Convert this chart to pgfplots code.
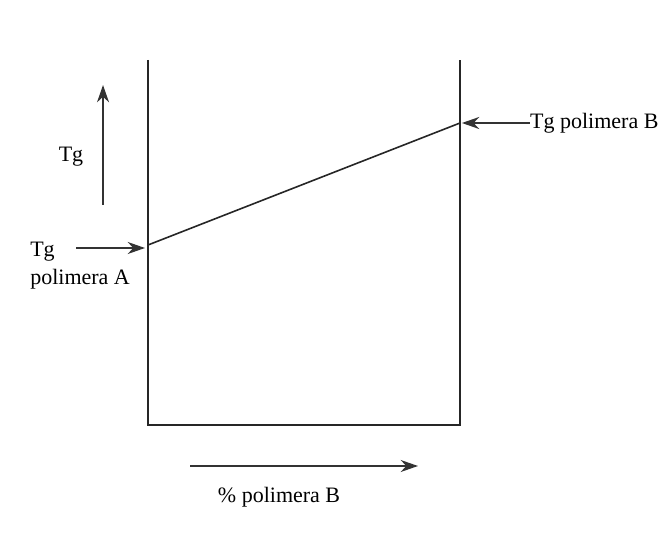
\documentclass[border=0pt]{standalone}
\usepackage{fontspec}
\setmainfont{Liberation Serif}
\usepackage{pgfplots}
\pgfplotsset{compat=1.18}
\usetikzlibrary{arrows.meta}
\begin{document}
\begin{tikzpicture}
\begin{axis}[
    x=2.34pt, y=0.75pt,
    xmin=-47.44, xmax=164.42,
    ymin=-108, ymax=425,
    hide axis,
    clip=false,
]
% frame open at the top
\addplot[black!85, line width=1.5pt] coordinates {(0,365) (0,0) (100,0) (100,365)};
% Tg against % polimera B
\addplot[black!85, line width=1.2pt] coordinates {(0,180) (100,302)};
\path (axis cs:-47.44,-108) rectangle (axis cs:164.42,425);
\def\ah{-{Stealth[length=13pt,width=9pt]}}
\draw[black!80, line width=1.5pt, \ah] (axis cs:-14.42,220) -- (axis cs:-14.42,340);
\draw[black!80, line width=1.5pt, \ah] (axis cs:-23.08,177) -- (axis cs:-0.96,177);
\draw[black!80, line width=1.5pt, \ah] (axis cs:122.4,302) -- (axis cs:100.6,302);
\draw[black!80, line width=1.5pt, \ah] (axis cs:13.46,-41) -- (axis cs:86.54,-41);
\node[font=\fontsize{16.5}{21}\selectfont] at (axis cs:-24.68,268) {Tg};
\node[font=\fontsize{16.5}{21}\selectfont, anchor=north west, align=left, inner sep=0pt] at (axis cs:-37.82,183) {Tg\\polimera A};
\node[font=\fontsize{16.5}{21}\selectfont, anchor=west, inner sep=0pt] at (axis cs:122.4,302) {Tg polimera B};
\node[font=\fontsize{16.5}{21}\selectfont] at (axis cs:42,-72) {\% polimera B};
\end{axis}
\end{tikzpicture}
\end{document}
